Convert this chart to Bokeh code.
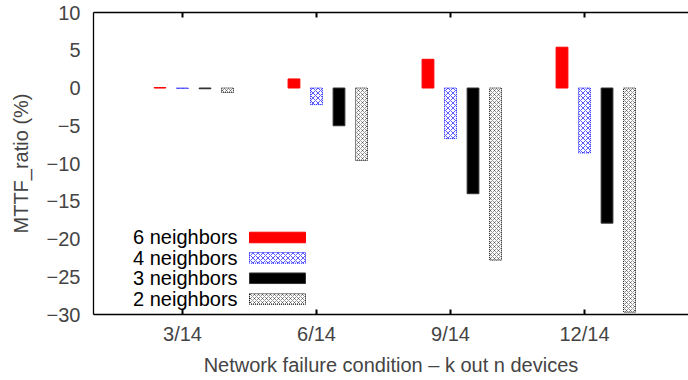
from bokeh.plotting import figure
from bokeh.models import Range1d, FixedTicker, LinearAxis, Label, ColumnDataSource
from bokeh.embed import file_html
from bokeh.resources import INLINE

categories = ["3/14", "6/14", "9/14", "12/14"]
series_names = ["6 neighbors", "4 neighbors", "3 neighbors", "2 neighbors"]
six_neighbors = [0.05, 1.2, 3.8, 5.4]
four_neighbors = [-0.05, -2.2, -6.7, -8.6]
three_neighbors = [-0.1, -5.0, -14.0, -17.9]
two_neighbors = [-0.6, -9.6, -22.8, -29.7]
y_ticks = [-30, -25, -20, -15, -10, -5, 0, 5, 10]

FONT = "Liberation Sans"
FS = "20px"

p = figure(width=688, height=380, output_backend="svg", toolbar_location=None,
           x_range=Range1d(0.336, 4.776), y_range=Range1d(-30, 10),
           min_border_left=93, min_border_right=0, min_border_top=12, min_border_bottom=66)
p.outline_line_color = None
p.xgrid.visible = False
p.ygrid.visible = False
p.background_fill_color = "white"
p.border_fill_color = "white"

styles = [
    dict(fill_color="red", line_color="red", line_width=1),
    dict(fill_color="white", line_color="blue", line_dash="1 1", line_width=1,
         hatch_pattern="diagonal_cross", hatch_color="blue", hatch_scale=5, hatch_weight=0.8, hatch_alpha=0.8),
    dict(fill_color="black", line_color="#333333", line_width=1),
    dict(fill_color="white", line_color="black", line_dash="1 1", line_width=1,
         hatch_pattern="diagonal_cross", hatch_color="black", hatch_scale=4, hatch_weight=0.7, hatch_alpha=0.6),
]
series = [six_neighbors, four_neighbors, three_neighbors, two_neighbors]
offsets = [-0.168, 0.0, 0.168, 0.336]
bar_w = 0.088

for vals, off, st in zip(series, offsets, styles):
    xs = [i + 1 + off for i in range(len(categories))]
    src = ColumnDataSource(dict(x=xs, top=vals, bottom=[0] * len(vals)))
    p.vbar(x="x", top="top", bottom="bottom", width=bar_w, source=src, **st)

# Legend (labels left of swatches)
leg_text_x = 1.411
sw_left, sw_right = 1.50, 1.918
leg_y = [-19.8, -22.5, -25.2, -27.95]
sw_h = 1.4
for name, ly, st in zip(series_names, leg_y, styles):
    p.add_layout(Label(x=leg_text_x, y=ly, text=name, text_align="right", text_baseline="middle",
                       text_font=FONT, text_font_size=FS, text_color="black"))
    p.quad(left=[sw_left], right=[sw_right], top=[ly + sw_h / 2], bottom=[ly - sw_h / 2], **st)

tick_labels = {i + 1: c for i, c in enumerate(categories)}

xa = p.xaxis[0]
xa.ticker = FixedTicker(ticks=list(tick_labels.keys()))
xa.major_label_overrides = tick_labels
xa.major_tick_in = 5
xa.major_tick_out = 0
xa.minor_tick_in = 0
xa.minor_tick_out = 0
xa.axis_line_width = 1.3
xa.major_tick_line_width = 2
xa.major_label_standoff = 8
xa.major_label_text_font = FONT
xa.major_label_text_font_size = FS
xa.axis_label = "Network failure condition \u2013 k out n devices"
xa.axis_label_text_font = FONT
xa.axis_label_text_font_size = FS
xa.axis_label_text_font_style = "normal"
xa.axis_label_standoff = 6

ya = p.yaxis[0]
ya.ticker = FixedTicker(ticks=y_ticks)
ya.major_label_overrides = {t: (str(t).replace("-", "\u2212")) for t in y_ticks}
ya.major_tick_in = 0
ya.major_tick_out = 0
ya.minor_tick_in = 0
ya.minor_tick_out = 0
ya.axis_line_width = 1.3
ya.major_label_standoff = 13
ya.major_label_text_font = FONT
ya.major_label_text_font_size = FS
ya.axis_label = "MTTF_ratio (%)"
ya.axis_label_text_font = FONT
ya.axis_label_text_font_size = FS
ya.axis_label_text_font_style = "normal"
ya.axis_label_standoff = 12

top_axis = LinearAxis(ticker=FixedTicker(ticks=list(tick_labels.keys())),
                      major_label_overrides={k: "" for k in tick_labels},
                      major_label_text_font_size="10px", major_label_standoff=0,
                      major_tick_in=5, major_tick_out=0, minor_tick_in=0, minor_tick_out=0,
                      axis_line_width=1.3, major_tick_line_width=2)
p.add_layout(top_axis, "above")

open("out.html", "w").write(file_html(p, INLINE))
